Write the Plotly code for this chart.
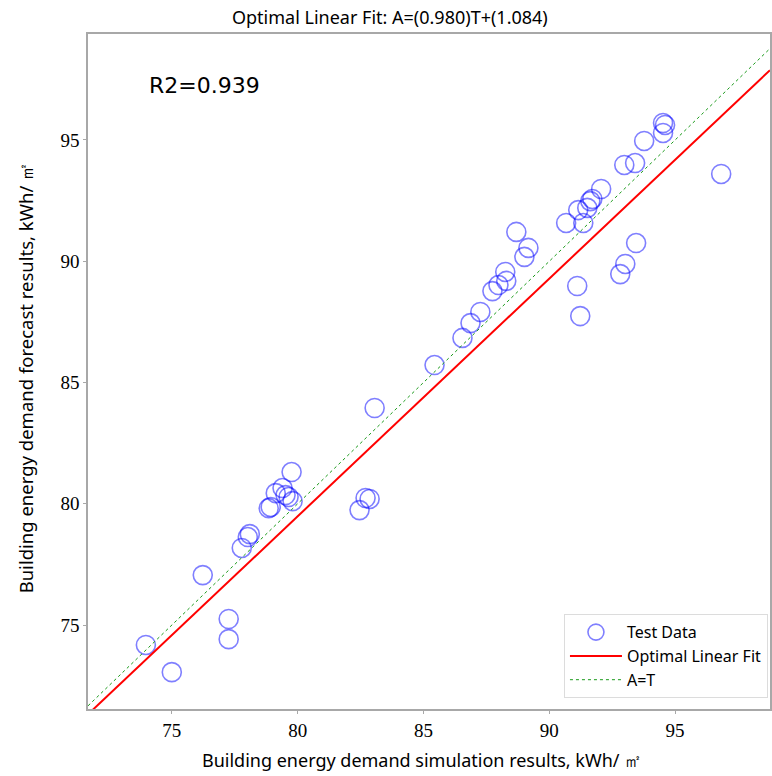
import plotly.graph_objects as go

# Simulated (T) vs forecast (A) building energy demand, kWh/㎡
sim = [73.97, 75.00, 76.23, 77.26, 77.26, 77.78, 78.02, 78.10, 78.85, 78.93,
       79.13, 79.40, 79.52, 79.64, 79.76, 79.80, 82.46, 82.70, 82.86, 83.06,
       85.44, 86.55, 86.87, 87.26, 87.74, 87.98, 88.29, 88.25, 88.69, 89.01,
       89.17, 90.67, 91.35, 91.15, 91.51, 91.63, 91.71, 92.06, 91.11, 91.23,
       92.82, 93.02, 93.45, 92.98, 93.41, 93.77, 94.52, 94.60, 94.52, 96.83]
pred = [74.18, 73.06, 77.06, 75.25, 74.42, 78.18, 78.63, 78.75, 79.82, 79.87,
        80.44, 80.65, 80.36, 80.28, 81.31, 80.11, 79.74, 80.24, 80.20, 83.95,
        85.72, 86.84, 87.45, 87.91, 88.77, 89.02, 89.19, 89.56, 91.21, 90.18,
        90.55, 91.58, 91.58, 92.11, 92.20, 92.48, 92.57, 92.98, 88.98, 87.74,
        89.47, 89.89, 90.75, 93.97, 94.05, 94.96, 95.70, 95.62, 95.29, 93.60]

# Linear fit A = slope*T + intercept and goodness of fit
slope = 0.980
intercept = 1.084
r2 = 0.939

x_range = [71.67, 98.77]
y_range = [71.54, 99.37]
tick_vals = [75, 80, 85, 90, 95]
tick_text = ["75", "80", "85", "90", "95"]

line_x = [x_range[0], x_range[1]]
fit_y = [slope * v + intercept for v in line_x]
ident_y = list(line_x)

fig = go.Figure()
fig.add_trace(go.Scatter(
    x=sim, y=pred, mode="markers", name="Test Data",
    marker=dict(symbol="circle-open", size=19, color="rgba(0,0,255,0.5)",
                line=dict(width=1.6, color="rgba(0,0,255,0.5)")),
))
fig.add_trace(go.Scatter(
    x=line_x, y=fit_y, mode="lines", name="Optimal Linear Fit",
    line=dict(color="#ff0000", width=2),
))
fig.add_trace(go.Scatter(
    x=line_x, y=ident_y, mode="lines", name="A=T",
    line=dict(color="#1a9a1a", width=1, dash="dot"),
))

axis_common = dict(
    showgrid=False, zeroline=False,
    showline=True, linecolor="#a8a8a8", linewidth=1.5, mirror=True,
    ticks="outside", ticklen=3, tickcolor="#a8a8a8",
    tickfont=dict(family="Liberation Serif", size=19, color="black"),
    tickvals=tick_vals, ticktext=tick_text,
)

fig.update_layout(
    width=772, height=776,
    margin=dict(l=88, r=0, t=34, b=67),
    paper_bgcolor="white", plot_bgcolor="white",
    title=dict(
        text=f"Optimal Linear Fit: A=({slope:.3f})T+({intercept:.3f})",
        x=0.505, xanchor="center", xref="container",
        y=1 - 18 / 776, yref="container", yanchor="middle",
        font=dict(family="Noto Sans", size=18, color="black"),
    ),
    xaxis=dict(range=x_range, **axis_common),
    yaxis=dict(range=y_range, **axis_common),
    showlegend=True,
    legend=dict(
        x=0.997, y=0.016, xanchor="right", yanchor="bottom",
        bgcolor="white", bordercolor="#dcdcdc", borderwidth=1,
        font=dict(family="Noto Sans", size=16, color="black"),
        tracegroupgap=0, itemwidth=52,
    ),
    annotations=[
        dict(text=f"R2={r2:.3f}", xref="paper", yref="paper",
             x=0.086, y=0.924, xanchor="left", yanchor="middle",
             showarrow=False,
             font=dict(family="DejaVu Sans", size=22, color="black")),
        dict(text="Building energy demand simulation results, kWh/ ㎡",
             xref="paper", yref="paper", x=0.49, y=-51 / 675,
             xanchor="center", yanchor="middle", showarrow=False,
             font=dict(family="Noto Sans", size=18, color="black")),
        dict(text="Building energy demand forecast results, kWh/ ㎡",
             xref="paper", yref="paper", x=-63 / 683, y=0.49,
             xanchor="center", yanchor="middle", showarrow=False, textangle=-90,
             font=dict(family="Noto Sans", size=18.5, color="black")),
    ],
)

fig.write_html("out.html")
